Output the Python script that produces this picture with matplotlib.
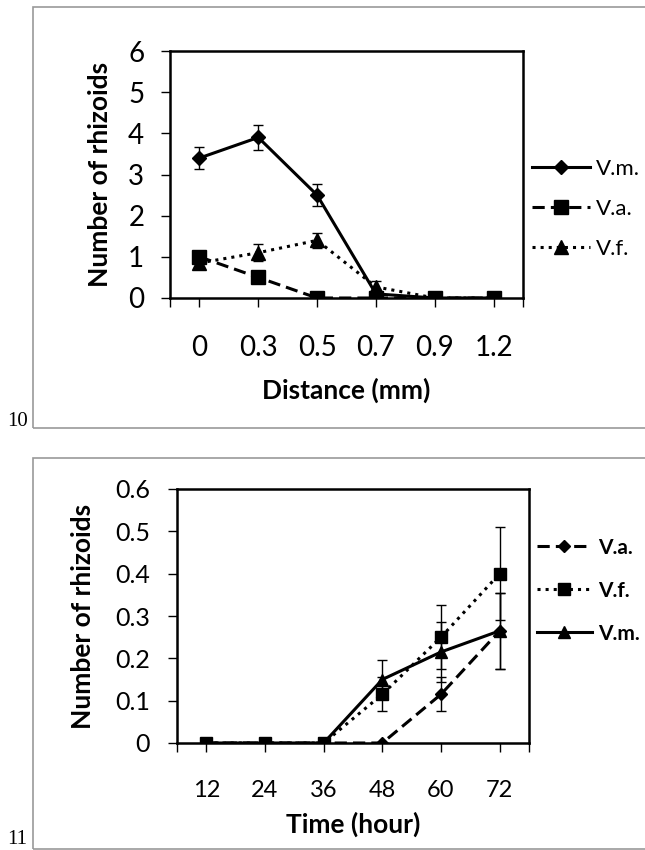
import matplotlib
matplotlib.use('Agg')
from matplotlib import pyplot as plt
from matplotlib.patches import Rectangle

plt.rcParams['font.family'] = ['Lato', 'DejaVu Sans']

# figure 10 data
dist_labels = ['0', '0.3', '0.5', '0.7', '0.9', '1.2']
vm_10 = [3.4, 3.9, 2.5, 0.1, 0, 0]
vm_10_err = [0.27, 0.3, 0.27, 0, 0, 0]
va_10 = [1.0, 0.5, 0, 0, 0, 0]
va_10_err = [0.1, 0, 0, 0, 0, 0]
vf_10 = [0.85, 1.1, 1.4, 0.27, 0, 0]
vf_10_err = [0.1, 0.2, 0.18, 0.15, 0, 0]

# figure 11 data
time_labels = ['12', '24', '36', '48', '60', '72']
va_11 = [0, 0, 0, 0, 0.115, 0.265]
va_11_err = [0, 0, 0, 0, 0.04, 0.09]
vf_11 = [0, 0, 0, 0.115, 0.25, 0.4]
vf_11_err = [0, 0, 0, 0.04, 0.075, 0.11]
vm_11 = [0, 0, 0, 0.15, 0.215, 0.265]
vm_11_err = [0, 0, 0, 0.045, 0.07, 0.09]

fig = plt.figure(figsize=(6.45, 8.5), dpi=100)

# grey frames round both panels, like the pasted figure
for y0, h in [(1 - 428/850, 421/850), (1 - 849/850, 391/850)]:
    fig.patches.append(Rectangle((33/645, y0), 1, h, transform=fig.transFigure,
                                 fill=False, edgecolor='#999999', lw=1.2))
fig.text(7/645, 1 - 422/850, '10', family='Liberation Serif', fontsize=15, va='center')
fig.text(7/645, 1 - 839/850, '11', family='Liberation Serif', fontsize=15, va='center')


def draw(ax, series, labels, ymax, ystep, st):
    x = list(range(len(labels)))
    for vals, err, mk, ls, name in series:
        ax.errorbar(x, vals, yerr=err, fmt='none', ecolor='black', elinewidth=1, capsize=3.5, capthick=1)
        ax.plot(x, vals, color='black', linestyle=ls, linewidth=2.2, marker=mk,
                markersize=st['ms'] if mk != 'D' else st['ms'] * 0.75, label=name)
    ax.set_xlim(-0.5, len(labels) - 0.5)
    ax.set_ylim(0, ymax)
    ax.set_xticks(x)
    ax.set_xticklabels(labels, fontsize=st['xt'])
    ax.set_xticks([-0.5, len(labels) - 0.5], minor=True)
    yt = [i * ystep for i in range(int(round(ymax / ystep)) + 1)]
    ax.set_yticks(yt)
    ax.set_yticklabels(['%g' % v for v in yt], fontsize=st['yt'])
    ax.tick_params(which='both', direction='out', length=6.5, width=1)
    ax.tick_params(axis='x', pad=st['xpad'])
    ax.tick_params(axis='y', pad=st['ypad'])
    for s in ax.spines.values():
        s.set_linewidth(1.8)
    ax.set_ylabel('Number of rhizoids', fontsize=st['yl'], fontweight='bold', labelpad=st['ylp'])
    ax.set_xlabel(st['xlab'], fontsize=st['xl'], fontweight='bold', labelpad=st['xlp'])
    ax.legend(loc='center left', bbox_to_anchor=(1.0, st['leg_y']), frameon=False,
              handlelength=2.6, handletextpad=0.3, labelspacing=st['lsp'], borderaxespad=0.0,
              prop={'size': st['lf'], 'weight': st['lw']})


ax1 = fig.add_axes([170/645, 1 - 298/850, 353/645, 247/850])
draw(ax1, [(vm_10, vm_10_err, 'D', '-', 'V.m.'),
           (va_10, va_10_err, 's', (0, (4, 2)), 'V.a.'),
           (vf_10, vf_10_err, '^', ':', 'V.f.')],
     dist_labels, 6, 1,
     dict(ms=10, xt=20, yt=20, xpad=20, ypad=12, yl=19, ylp=12, xl=19, xlp=12,
          xlab='Distance (mm)', leg_y=0.36, lf=16, lw='normal', lsp=0.9))

ax2 = fig.add_axes([177/645, 1 - 743/850, 352/645, 254/850])
draw(ax2, [(va_11, va_11_err, 'D', (0, (4, 2)), 'V.a.'),
           (vf_11, vf_11_err, 's', ':', 'V.f.'),
           (vm_11, vm_11_err, '^', '-', 'V.m.')],
     time_labels, 0.6, 0.1,
     dict(ms=8, xt=17, yt=18, xpad=20, ypad=13, yl=19, ylp=14, xl=19, xlp=8,
          xlab='Time (hour)', leg_y=0.6, lf=15, lw='bold', lsp=1.1))

fig.savefig('out.png', dpi=100)
